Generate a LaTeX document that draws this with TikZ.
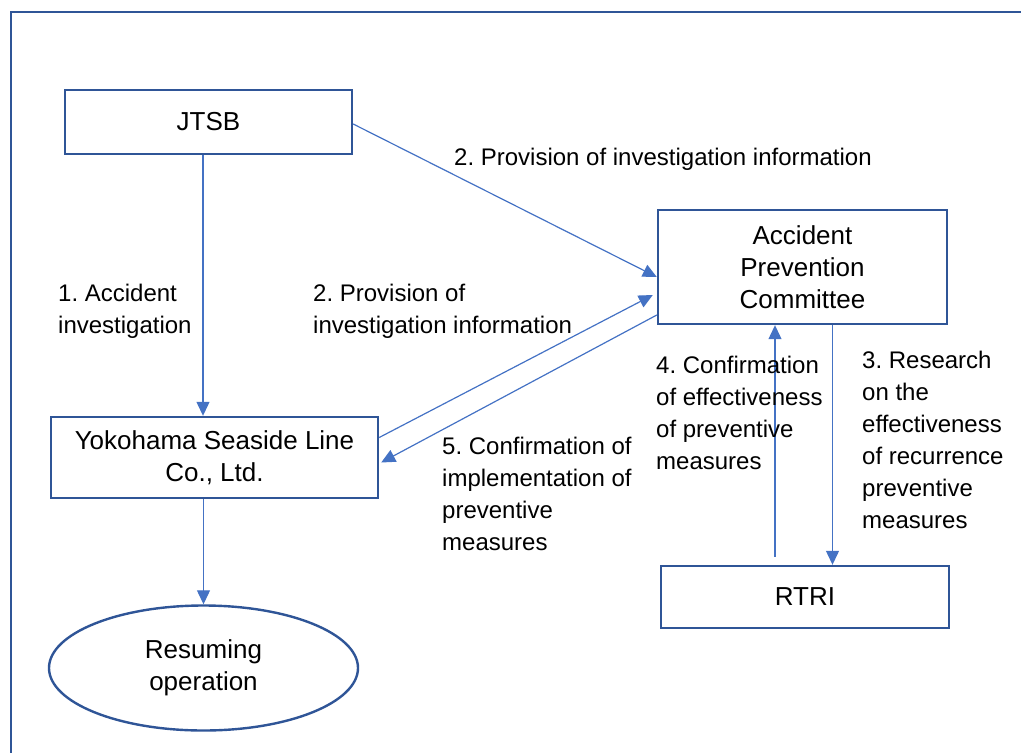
\documentclass[tikz,border=0pt]{standalone}
\usepackage{fontspec}
\setmainfont{Liberation Sans}
\usetikzlibrary{arrows.meta,shapes.geometric}

\definecolor{framec}{HTML}{2F5597}
\definecolor{arrowc}{HTML}{4472C4}
\frenchspacing

\begin{document}
\begin{tikzpicture}[x=1pt, y=-1pt, >={Triangle[length=14pt,width=13pt]}]

    \tikzstyle{org} = [rectangle, draw=framec, line width=2.4pt, align=center, inner sep=0pt, font=\fontsize{26}{32}\selectfont]
    \tikzstyle{note} = [anchor=base west, align=left, inner sep=0pt, font=\fontsize{24}{32}\selectfont]
    \tikzstyle{arr} = [->, draw=arrowc, line width=1.2pt]

    \useasboundingbox (0,0) rectangle (1021,753);
    \draw[framec, line width=2.6pt] (11,12) rectangle (1060,790);

    \node (jtsb)   [org, minimum width=287pt, minimum height=64pt] at (208.5,122)   {JTSB};
    \node (apc)    [org, minimum width=289pt, minimum height=114pt] at (802.5,267)  {Accident\\Prevention\\Committee};
    \node (yoko)   [org, minimum width=327pt, minimum height=81pt] at (214.5,457.5) {Yokohama Seaside Line\\Co., Ltd.};
    \node (rtri)   [org, minimum width=288pt, minimum height=62pt] at (805,597)     {RTRI};
    \node (resume) [org, ellipse, minimum width=309pt, minimum height=125pt] at (203.5,668) {Resuming\\operation};

    \draw[arr] ([xshift=-5.5pt]jtsb.south) -- ([xshift=-5.5pt]jtsb.south |- yoko.north);
    \draw[arr] (yoko.south -| resume.north) -- (resume.north);
    \draw[arr] ([yshift=-2pt]jtsb.east) -- ([yshift=-10pt]apc.west);
    \draw[arr] ([yshift=20pt]yoko.east) -- ([xshift=-4pt, yshift=-28pt]apc.west);
    \draw[arr] ([yshift=-48pt]apc.west) -- ([xshift=2pt, yshift=-5pt]yoko.east);
    \draw[arr] ([xshift=-30pt, yshift=8pt]rtri.north) -- ([xshift=-30pt]rtri.north |- apc.south);
    \draw[arr] ([xshift=30pt]apc.south) -- ([xshift=30pt]apc.south |- rtri.north);

    % base of a multi-line note is its last line
    \node (n2top)  [note] at (454,165) {2. Provision of investigation information};
    \node (n1)     [note] at (58,333)  {1. Accident\\investigation};
    \node (n2)     [note] at (313,333) {2. Provision of\\investigation information};
    \node (n5)     [note] at (442,550) {5. Confirmation of\\implementation of\\preventive\\measures};
    \node (n4)     [note] at (656,469) {4. Confirmation\\of effectiveness\\of preventive\\measures};
    \node (n3)     [note] at (862,528) {3. Research\\on the\\effectiveness\\of recurrence\\preventive\\measures};
\end{tikzpicture}
\end{document}
